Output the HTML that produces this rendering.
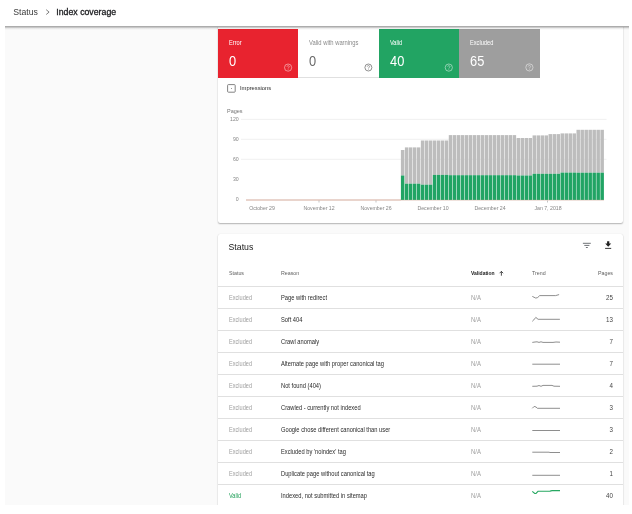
<!DOCTYPE html>
<html><head><meta charset="utf-8">
<style>
*{margin:0;padding:0;box-sizing:border-box}
html,body{width:632px;height:514px;overflow:hidden;background:#fff}
#root{position:absolute;left:0;top:0;width:632px;height:514px;will-change:transform}
body{position:relative;font-family:"Liberation Sans",Arial,sans-serif;color:#212121}
.a{position:absolute;white-space:nowrap;line-height:1}
#frame{position:absolute;left:5px;top:0;width:624px;height:505px;background:#fafafa;overflow:hidden}
#hdr{position:absolute;left:0;top:0;width:632px;height:26px;background:#fff;z-index:5}
#hdrline{z-index:6;position:absolute;left:5px;top:26px;width:624px;height:1px;background:#acacac}
#hdrline2{z-index:6;position:absolute;left:5px;top:27px;width:624px;height:3px;background:linear-gradient(rgba(0,0,0,.2) 0,rgba(0,0,0,.2) 1px,rgba(0,0,0,.07) 1px,rgba(0,0,0,.07) 2px,rgba(0,0,0,.02) 2px)}
.card{position:absolute;background:#fff;border-radius:2px;box-shadow:0 1px 1.5px rgba(0,0,0,.28),0 0 1px rgba(0,0,0,.12)}
.tile{position:absolute;top:28.7px;height:49.2px}
.tl{position:absolute;left:11px;top:11px;font-size:6.6px;line-height:1;transform:scaleX(.86);transform-origin:0 0}
.tn{position:absolute;left:11.1px;top:24.9px;font-size:14.6px;line-height:1;transform:scaleX(.88);transform-origin:0 0}
.th{font-size:5.8px;color:#616161;transform:scaleX(.914);transform-origin:0 0}
.td{font-size:6.5px;color:#2a2a2a;transform:scaleX(.885);transform-origin:0 0}
.st{font-size:6.4px;color:#9e9e9e;transform:scaleX(.875);transform-origin:0 0}
.na{font-size:6.4px;color:#a0a0a0;transform:scaleX(.93);transform-origin:0 0}
.pg{font-size:7px;color:#444;text-align:right;width:30px;transform:scaleX(.885);transform-origin:100% 0}
.div{position:absolute;left:217.7px;width:405.6px;height:1px;background:#e0e0e0}
.yl{font-size:5.2px;color:#858585;text-align:right;width:20px}
.xl{font-size:6px;color:#858585;text-align:center;width:50px;transform:scaleX(.867);transform-origin:50% 0}
</style></head><body><div id="root">
<div id="frame"></div>
<div id="hdr"></div>
<div class="a" style="z-index:7;left:13.2px;top:7.6px;font-size:8.7px;color:#3a3a3a">Status</div>
<svg style="position:absolute;z-index:7;left:44px;top:8px" width="8" height="8" viewBox="44 8 8 8"><path d="M46.2 9.7L49.1 12.1L46.2 14.5" fill="none" stroke="#666" stroke-width="0.85"/></svg>
<div class="a" style="z-index:7;left:56.3px;top:7.6px;font-size:8.75px;-webkit-text-stroke:0.3px #202124;color:#202124">Index coverage</div>

<!-- card 1 -->
<div class="card" style="left:217.7px;top:20px;width:405.6px;height:203.2px"></div>
<div class="tile" style="left:217.7px;width:80.4px;background:#e8232f">
  <div class="tl" style="color:#fff">Error</div>
  <div class="tn" style="color:#fff">0</div>
</div>
<div class="tile" style="left:298.1px;width:80.7px;background:#fff;border-bottom:1px solid #e0e0e0">
  <div class="tl" style="color:#8a8a8a;transform:scaleX(.885)">Valid with warnings</div>
  <div class="tn" style="color:#6a6a6a">0</div>
</div>
<div class="tile" style="left:378.8px;width:80.2px;background:#22a463">
  <div class="tl" style="color:#fff">Valid</div>
  <div class="tn" style="color:#fff">40</div>
</div>
<div class="tile" style="left:459px;width:81px;background:#9e9e9e">
  <div class="tl" style="color:#fff">Excluded</div>
  <div class="tn" style="color:#fff">65</div>
</div>
<svg style="position:absolute;left:0;top:0" width="632" height="514" viewBox="0 0 632 514">
 <g fill="none" stroke-width="0.8">
  <circle cx="288.1" cy="67.6" r="3.6" stroke="rgba(255,255,255,.6)"/>
  <circle cx="368.4" cy="67.5" r="3.5" stroke="#757575"/>
  <circle cx="448.8" cy="67.6" r="3.6" stroke="rgba(255,255,255,.6)"/>
  <circle cx="529.4" cy="67.4" r="3.6" stroke="rgba(255,255,255,.6)"/>
 </g>
<g transform="translate(288.1 67.6)"><path d="M-1.15 -0.9C-1.15 -2.3 1.2 -2.3 1.2 -0.9C1.2 0 0 0 0 1" fill="none" stroke="rgba(255,255,255,.6)" stroke-width="0.7"/><circle cx="0" cy="1.85" r="0.42" fill="rgba(255,255,255,.6)"/></g>
<g transform="translate(368.4 67.5)"><path d="M-1.15 -0.9C-1.15 -2.3 1.2 -2.3 1.2 -0.9C1.2 0 0 0 0 1" fill="none" stroke="#757575" stroke-width="0.7"/><circle cx="0" cy="1.85" r="0.42" fill="#757575"/></g>
<g transform="translate(448.8 67.6)"><path d="M-1.15 -0.9C-1.15 -2.3 1.2 -2.3 1.2 -0.9C1.2 0 0 0 0 1" fill="none" stroke="rgba(255,255,255,.6)" stroke-width="0.7"/><circle cx="0" cy="1.85" r="0.42" fill="rgba(255,255,255,.6)"/></g>
<g transform="translate(529.4 67.4)"><path d="M-1.15 -0.9C-1.15 -2.3 1.2 -2.3 1.2 -0.9C1.2 0 0 0 0 1" fill="none" stroke="rgba(255,255,255,.6)" stroke-width="0.7"/><circle cx="0" cy="1.85" r="0.42" fill="rgba(255,255,255,.6)"/></g>

 <!-- checkbox -->
 <rect x="227.6" y="84.6" width="7.6" height="7.6" rx="0.8" fill="none" stroke="#757575" stroke-width="0.9"/>
 <rect x="231" y="88" width="0.8" height="0.8" fill="#616161"/>
 <!-- gridlines -->
 <g stroke="#ececec" stroke-width="0.8">
  <line x1="241" y1="119.4" x2="606.5" y2="119.4"/>
  <line x1="241" y1="139.3" x2="606.5" y2="139.3"/>
  <line x1="241" y1="159.3" x2="606.5" y2="159.3"/>
 </g>
 <line x1="246" y1="200" x2="401" y2="200" stroke="#d3a99a" stroke-width="1"/>
 <g>
<rect x="400.90" y="150.0" width="3.49" height="25.50" fill="#bdbdbd"/><rect x="400.90" y="175.5" width="3.49" height="24.50" fill="#21a464"/>
<rect x="404.89" y="147.4" width="3.49" height="36.30" fill="#bdbdbd"/><rect x="404.89" y="183.7" width="3.49" height="16.30" fill="#21a464"/>
<rect x="408.88" y="147.4" width="3.49" height="36.30" fill="#bdbdbd"/><rect x="408.88" y="183.7" width="3.49" height="16.30" fill="#21a464"/>
<rect x="412.87" y="147.4" width="3.49" height="36.30" fill="#bdbdbd"/><rect x="412.87" y="183.7" width="3.49" height="16.30" fill="#21a464"/>
<rect x="416.86" y="147.4" width="3.49" height="36.30" fill="#bdbdbd"/><rect x="416.86" y="183.7" width="3.49" height="16.30" fill="#21a464"/>
<rect x="420.85" y="140.5" width="3.49" height="44.20" fill="#bdbdbd"/><rect x="420.85" y="184.7" width="3.49" height="15.30" fill="#21a464"/>
<rect x="424.84" y="140.5" width="3.49" height="44.20" fill="#bdbdbd"/><rect x="424.84" y="184.7" width="3.49" height="15.30" fill="#21a464"/>
<rect x="428.83" y="140.5" width="3.49" height="44.20" fill="#bdbdbd"/><rect x="428.83" y="184.7" width="3.49" height="15.30" fill="#21a464"/>
<rect x="432.82" y="140.5" width="3.49" height="34.40" fill="#bdbdbd"/><rect x="432.82" y="174.9" width="3.49" height="25.10" fill="#21a464"/>
<rect x="436.81" y="140.5" width="3.49" height="34.40" fill="#bdbdbd"/><rect x="436.81" y="174.9" width="3.49" height="25.10" fill="#21a464"/>
<rect x="440.80" y="140.5" width="3.49" height="34.40" fill="#bdbdbd"/><rect x="440.80" y="174.9" width="3.49" height="25.10" fill="#21a464"/>
<rect x="444.79" y="140.5" width="3.49" height="34.40" fill="#bdbdbd"/><rect x="444.79" y="174.9" width="3.49" height="25.10" fill="#21a464"/>
<rect x="448.78" y="135.1" width="3.49" height="40.10" fill="#bdbdbd"/><rect x="448.78" y="175.2" width="3.49" height="24.80" fill="#21a464"/>
<rect x="452.77" y="135.1" width="3.49" height="40.10" fill="#bdbdbd"/><rect x="452.77" y="175.2" width="3.49" height="24.80" fill="#21a464"/>
<rect x="456.76" y="135.1" width="3.49" height="40.10" fill="#bdbdbd"/><rect x="456.76" y="175.2" width="3.49" height="24.80" fill="#21a464"/>
<rect x="460.75" y="135.1" width="3.49" height="40.10" fill="#bdbdbd"/><rect x="460.75" y="175.2" width="3.49" height="24.80" fill="#21a464"/>
<rect x="464.74" y="135.1" width="3.49" height="40.10" fill="#bdbdbd"/><rect x="464.74" y="175.2" width="3.49" height="24.80" fill="#21a464"/>
<rect x="468.73" y="135.1" width="3.49" height="40.10" fill="#bdbdbd"/><rect x="468.73" y="175.2" width="3.49" height="24.80" fill="#21a464"/>
<rect x="472.72" y="135.1" width="3.49" height="40.10" fill="#bdbdbd"/><rect x="472.72" y="175.2" width="3.49" height="24.80" fill="#21a464"/>
<rect x="476.71" y="135.1" width="3.49" height="40.10" fill="#bdbdbd"/><rect x="476.71" y="175.2" width="3.49" height="24.80" fill="#21a464"/>
<rect x="480.70" y="135.1" width="3.49" height="40.10" fill="#bdbdbd"/><rect x="480.70" y="175.2" width="3.49" height="24.80" fill="#21a464"/>
<rect x="484.69" y="135.1" width="3.49" height="40.10" fill="#bdbdbd"/><rect x="484.69" y="175.2" width="3.49" height="24.80" fill="#21a464"/>
<rect x="488.68" y="135.1" width="3.49" height="40.10" fill="#bdbdbd"/><rect x="488.68" y="175.2" width="3.49" height="24.80" fill="#21a464"/>
<rect x="492.67" y="135.1" width="3.49" height="40.10" fill="#bdbdbd"/><rect x="492.67" y="175.2" width="3.49" height="24.80" fill="#21a464"/>
<rect x="496.66" y="135.1" width="3.49" height="40.10" fill="#bdbdbd"/><rect x="496.66" y="175.2" width="3.49" height="24.80" fill="#21a464"/>
<rect x="500.65" y="135.1" width="3.49" height="40.10" fill="#bdbdbd"/><rect x="500.65" y="175.2" width="3.49" height="24.80" fill="#21a464"/>
<rect x="504.65" y="135.1" width="3.49" height="40.10" fill="#bdbdbd"/><rect x="504.65" y="175.2" width="3.49" height="24.80" fill="#21a464"/>
<rect x="508.64" y="135.1" width="3.49" height="40.10" fill="#bdbdbd"/><rect x="508.64" y="175.2" width="3.49" height="24.80" fill="#21a464"/>
<rect x="512.63" y="135.1" width="3.49" height="40.10" fill="#bdbdbd"/><rect x="512.63" y="175.2" width="3.49" height="24.80" fill="#21a464"/>
<rect x="516.62" y="138.0" width="3.49" height="37.50" fill="#bdbdbd"/><rect x="516.62" y="175.5" width="3.49" height="24.50" fill="#21a464"/>
<rect x="520.61" y="138.0" width="3.49" height="37.50" fill="#bdbdbd"/><rect x="520.61" y="175.5" width="3.49" height="24.50" fill="#21a464"/>
<rect x="524.60" y="138.0" width="3.49" height="37.50" fill="#bdbdbd"/><rect x="524.60" y="175.5" width="3.49" height="24.50" fill="#21a464"/>
<rect x="528.59" y="138.0" width="3.49" height="37.50" fill="#bdbdbd"/><rect x="528.59" y="175.5" width="3.49" height="24.50" fill="#21a464"/>
<rect x="532.58" y="135.4" width="3.49" height="38.40" fill="#bdbdbd"/><rect x="532.58" y="173.8" width="3.49" height="26.20" fill="#21a464"/>
<rect x="536.57" y="135.4" width="3.49" height="38.40" fill="#bdbdbd"/><rect x="536.57" y="173.8" width="3.49" height="26.20" fill="#21a464"/>
<rect x="540.56" y="135.4" width="3.49" height="38.40" fill="#bdbdbd"/><rect x="540.56" y="173.8" width="3.49" height="26.20" fill="#21a464"/>
<rect x="544.55" y="135.4" width="3.49" height="38.40" fill="#bdbdbd"/><rect x="544.55" y="173.8" width="3.49" height="26.20" fill="#21a464"/>
<rect x="548.54" y="134.1" width="3.49" height="39.70" fill="#bdbdbd"/><rect x="548.54" y="173.8" width="3.49" height="26.20" fill="#21a464"/>
<rect x="552.53" y="134.1" width="3.49" height="39.70" fill="#bdbdbd"/><rect x="552.53" y="173.8" width="3.49" height="26.20" fill="#21a464"/>
<rect x="556.52" y="134.1" width="3.49" height="39.70" fill="#bdbdbd"/><rect x="556.52" y="173.8" width="3.49" height="26.20" fill="#21a464"/>
<rect x="560.51" y="133.4" width="3.49" height="39.20" fill="#bdbdbd"/><rect x="560.51" y="172.6" width="3.49" height="27.40" fill="#21a464"/>
<rect x="564.50" y="133.4" width="3.49" height="39.20" fill="#bdbdbd"/><rect x="564.50" y="172.6" width="3.49" height="27.40" fill="#21a464"/>
<rect x="568.49" y="133.4" width="3.49" height="39.20" fill="#bdbdbd"/><rect x="568.49" y="172.6" width="3.49" height="27.40" fill="#21a464"/>
<rect x="572.48" y="133.4" width="3.49" height="39.20" fill="#bdbdbd"/><rect x="572.48" y="172.6" width="3.49" height="27.40" fill="#21a464"/>
<rect x="576.47" y="129.8" width="3.49" height="42.90" fill="#bdbdbd"/><rect x="576.47" y="172.7" width="3.49" height="27.30" fill="#21a464"/>
<rect x="580.46" y="129.8" width="3.49" height="42.90" fill="#bdbdbd"/><rect x="580.46" y="172.7" width="3.49" height="27.30" fill="#21a464"/>
<rect x="584.45" y="129.8" width="3.49" height="42.90" fill="#bdbdbd"/><rect x="584.45" y="172.7" width="3.49" height="27.30" fill="#21a464"/>
<rect x="588.44" y="129.8" width="3.49" height="42.90" fill="#bdbdbd"/><rect x="588.44" y="172.7" width="3.49" height="27.30" fill="#21a464"/>
<rect x="592.43" y="129.8" width="3.49" height="42.90" fill="#bdbdbd"/><rect x="592.43" y="172.7" width="3.49" height="27.30" fill="#21a464"/>
<rect x="596.42" y="129.8" width="3.49" height="42.90" fill="#bdbdbd"/><rect x="596.42" y="172.7" width="3.49" height="27.30" fill="#21a464"/>
<rect x="600.41" y="129.8" width="3.49" height="42.90" fill="#bdbdbd"/><rect x="600.41" y="172.7" width="3.49" height="27.30" fill="#21a464"/>
 </g>
 <line x1="401" y1="200.2" x2="604" y2="200.2" stroke="#d3a99a" stroke-width="0.6" opacity="0.8"/>
 <g stroke="#9e9e9e" stroke-width="0.6">
  <line x1="319" y1="200.5" x2="319" y2="202.5"/>
  <line x1="376" y1="200.5" x2="376" y2="202.5"/>
  <line x1="547.5" y1="200.5" x2="547.5" y2="202.5"/>
 </g>
</svg>
<div class="a" style="left:240px;top:84.9px;font-size:6.2px;color:#2a2a2a;transform:scaleX(.935);transform-origin:0 0">Impressions</div>
<div class="a" style="left:227px;top:108.4px;font-size:6px;color:#757575;transform:scaleX(.917);transform-origin:0 0">Pages</div>
<div class="a yl" style="left:218.7px;top:117.2px">120</div>
<div class="a yl" style="left:218.7px;top:137.1px">90</div>
<div class="a yl" style="left:218.7px;top:157.1px">60</div>
<div class="a yl" style="left:218.7px;top:177.1px">30</div>
<div class="a yl" style="left:218.7px;top:197.2px">0</div>
<div class="a xl" style="left:237px;top:204.6px">October 29</div>
<div class="a xl" style="left:294px;top:204.6px">November 12</div>
<div class="a xl" style="left:351px;top:204.6px">November 26</div>
<div class="a xl" style="left:408px;top:204.6px">December 10</div>
<div class="a xl" style="left:465px;top:204.6px">December 24</div>
<div class="a xl" style="left:522.5px;top:204.6px">Jan 7, 2018</div>

<!-- card 2 -->
<div class="card" style="left:217.7px;top:233.5px;width:405.6px;height:300px"></div>
<div class="a" style="left:228.5px;top:242.8px;font-size:8.75px;color:#212121">Status</div>
<svg style="position:absolute;left:0;top:0" width="632" height="514" viewBox="0 0 632 514">
 <g stroke="#5f6368" stroke-width="0.9">
  <line x1="582.9" y1="243.3" x2="590.8" y2="243.3"/>
  <line x1="584.3" y1="245.4" x2="589.4" y2="245.4"/>
  <line x1="585.9" y1="247.5" x2="587.8" y2="247.5"/>
 </g>
 <path d="M607.1 241.2h2.2v2.4h1.9l-3 3.1l-3-3.1h1.9z" fill="#212121"/>
 <rect x="605.1" y="247.9" width="6.1" height="0.9" fill="#212121"/>
 <path d="M501.4 275.7v-4.3M499.6 273.2l1.8-1.8l1.8 1.8" stroke="#212121" stroke-width="0.8" fill="none"/>
 <g fill="none" stroke="#7a7a7a" stroke-width="0.85" stroke-linejoin="round">
  <path d="M532.3 296.4L535.8 298.1L537.7 297.5L539.7 295.6L555.6 295.6L559.1 294.6"/>
  <path d="M532.3 321.3L533.8 319.9L535.8 317.4L538.1 319.3L559.9 319.3"/>
  <path d="M532.3 342.4L535 342.0L537 341.8L539 342.4L541 341.8L543 342.4L553 342.4L556 342.0L560 342.2"/>
  <path d="M532.3 364.2L560 364.2"/>
  <path d="M532.3 386.3L537 386.2L539 385.5L541 386.3L543 385.4L552 385.4L554 386.2L560 386.3"/>
  <path d="M532.3 408.3L534.2 406.4L536 407.0L537.5 408.3L560 408.3"/>
  <path d="M532.3 430.5L560 430.5"/>
  <path d="M532.3 452.2L549 452.2L550 452.5L560 452.5"/>
  <path d="M532.3 475.3L560 475.3"/>
 </g>
 <path d="M532.3 491.3L534.7 493.5L536 493.4L538 491.3L550 491.1L552 490.6L560 490.6" fill="none" stroke="#27a862" stroke-width="1.1"/>
</svg>
<div class="a th" style="left:228.6px;top:270.7px">Status</div>
<div class="a th" style="left:280.9px;top:270.7px">Reason</div>
<div class="a th" style="left:471.2px;top:270.8px;font-weight:bold;color:#212121;font-size:5.5px;transform:scaleX(.909)">Validation</div>
<div class="a th" style="left:532px;top:270.7px">Trend</div>
<div class="a th" style="left:582.5px;top:270.7px;width:30px;text-align:right;transform-origin:100% 0">Pages</div>
<div class="div" style="top:285.8px"></div>
<div class="div" style="top:307.8px"></div>
<div class="div" style="top:329.8px"></div>
<div class="div" style="top:351.8px"></div>
<div class="div" style="top:373.8px"></div>
<div class="div" style="top:395.8px"></div>
<div class="div" style="top:417.8px"></div>
<div class="div" style="top:439.8px"></div>
<div class="div" style="top:461.8px"></div>
<div class="div" style="top:483.8px"></div>
<div class="div" style="top:505.8px"></div>

<div class="a st" style="left:228.8px;top:294.87px;color:#9e9e9e">Excluded</div>
<div class="a td" style="left:280.9px;top:294.82px">Page with redirect</div>
<div class="a na" style="left:471.2px;top:294.87px">N/A</div>
<div class="a pg" style="left:583.2px;top:293.78px">25</div>
<div class="a st" style="left:228.8px;top:316.87px;color:#9e9e9e">Excluded</div>
<div class="a td" style="left:280.9px;top:316.82px">Soft 404</div>
<div class="a na" style="left:471.2px;top:316.87px">N/A</div>
<div class="a pg" style="left:583.2px;top:315.78px">13</div>
<div class="a st" style="left:228.8px;top:338.87px;color:#9e9e9e">Excluded</div>
<div class="a td" style="left:280.9px;top:338.82px">Crawl anomaly</div>
<div class="a na" style="left:471.2px;top:338.87px">N/A</div>
<div class="a pg" style="left:583.2px;top:337.78px">7</div>
<div class="a st" style="left:228.8px;top:360.87px;color:#9e9e9e">Excluded</div>
<div class="a td" style="left:280.9px;top:360.82px">Alternate page with proper canonical tag</div>
<div class="a na" style="left:471.2px;top:360.87px">N/A</div>
<div class="a pg" style="left:583.2px;top:359.78px">7</div>
<div class="a st" style="left:228.8px;top:382.87px;color:#9e9e9e">Excluded</div>
<div class="a td" style="left:280.9px;top:382.82px">Not found (404)</div>
<div class="a na" style="left:471.2px;top:382.87px">N/A</div>
<div class="a pg" style="left:583.2px;top:381.78px">4</div>
<div class="a st" style="left:228.8px;top:404.87px;color:#9e9e9e">Excluded</div>
<div class="a td" style="left:280.9px;top:404.82px">Crawled - currently not indexed</div>
<div class="a na" style="left:471.2px;top:404.87px">N/A</div>
<div class="a pg" style="left:583.2px;top:403.78px">3</div>
<div class="a st" style="left:228.8px;top:426.87px;color:#9e9e9e">Excluded</div>
<div class="a td" style="left:280.9px;top:426.82px">Google chose different canonical than user</div>
<div class="a na" style="left:471.2px;top:426.87px">N/A</div>
<div class="a pg" style="left:583.2px;top:425.78px">3</div>
<div class="a st" style="left:228.8px;top:448.87px;color:#9e9e9e">Excluded</div>
<div class="a td" style="left:280.9px;top:448.82px">Excluded by &#39;noindex&#39; tag</div>
<div class="a na" style="left:471.2px;top:448.87px">N/A</div>
<div class="a pg" style="left:583.2px;top:447.78px">2</div>
<div class="a st" style="left:228.8px;top:470.87px;color:#9e9e9e">Excluded</div>
<div class="a td" style="left:280.9px;top:470.82px">Duplicate page without canonical tag</div>
<div class="a na" style="left:471.2px;top:470.87px">N/A</div>
<div class="a pg" style="left:583.2px;top:469.78px">1</div>
<div class="a st" style="left:228.8px;top:492.87px;color:#1e9e57">Valid</div>
<div class="a td" style="left:280.9px;top:492.82px">Indexed, not submitted in sitemap</div>
<div class="a na" style="left:471.2px;top:492.87px">N/A</div>
<div class="a pg" style="left:583.2px;top:491.78px">40</div>
<div id="hdrline"></div><div id="hdrline2"></div>
<div style="position:absolute;left:0;top:505px;width:632px;height:9px;background:#fff"></div>
<div style="position:absolute;left:629px;top:0;width:3px;height:514px;background:#fff"></div>
</div></body></html>
